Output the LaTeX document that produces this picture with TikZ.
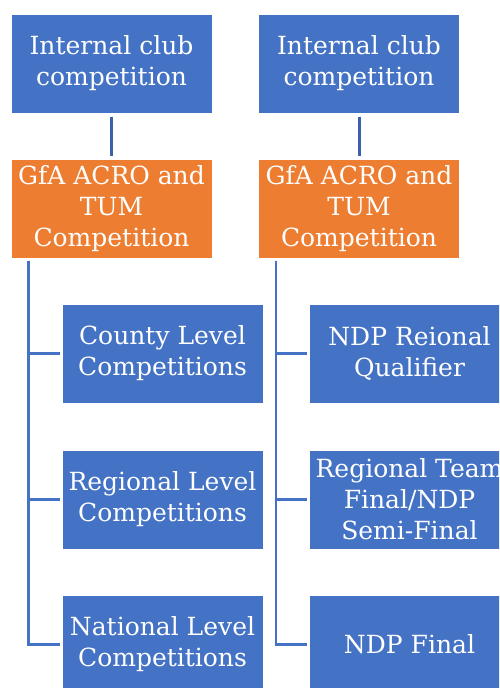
\documentclass[tikz,border=0pt]{standalone}
\usepackage{fontspec}
\newfontfamily\boxfont{DejaVu Serif}
\definecolor{boxblue}{HTML}{4472C4}
\definecolor{boxorange}{HTML}{ED7D31}
\definecolor{linkblue}{HTML}{3A62AC}

\begin{document}
\begin{tikzpicture}[x=1pt,y=-1pt,
        stage/.style={rectangle,draw=white,line width=1pt,fill=boxblue,text=white,
            minimum width=201pt,minimum height=99pt,align=center,
            font=\boxfont\fontsize{25}{31}\selectfont},
        event/.style={stage,fill=boxorange},
        link/.style={draw=boxblue,line width=2.6pt,shorten >=2pt}]
            \clip (0,0) rectangle (499,688);
            \node[stage] (C1) at (111.5,63.5) {Internal club\\competition};
            \node[stage] (C2) at (359,63.5) {Internal club\\competition};
            \node[event] (G1) at (111.5,208.5) {GfA ACRO and\\TUM\\Competition};
            \node[event] (G2) at (359,208.5) {GfA ACRO and\\TUM\\Competition};

            \node[stage] (L1) at (162.5,353.5) {County Level\\Competitions};
            \node[stage] (L2) at (162.5,499.5) {Regional Level\\Competitions};
            \node[stage] (L3) at (162.5,644.5) {National Level\\Competitions};
            \node[stage] (R1) at (409.5,353.5) {NDP Reional\\Qualifier};
            \node[stage] (R2) at (409.5,499.5) {Regional Team\\Final/NDP\\Semi-Final};
            \node[stage] (R3) at (409.5,644.5) {NDP Final};

            \draw[link,draw=linkblue,line width=3pt,shorten <=3pt,shorten >=3pt] (C1) -- (G1);
            \draw[link,draw=linkblue,line width=3pt,shorten <=3pt,shorten >=3pt] (C2) -- (G2);
            \foreach \n in {1,2,3} {
                \draw[link] (G1.south west) ++(18,2) |- (L\n.west);
                \draw[link] (G2.south west) ++(18,2) |- (R\n.west);
            }
        \end{tikzpicture}
\end{document}
